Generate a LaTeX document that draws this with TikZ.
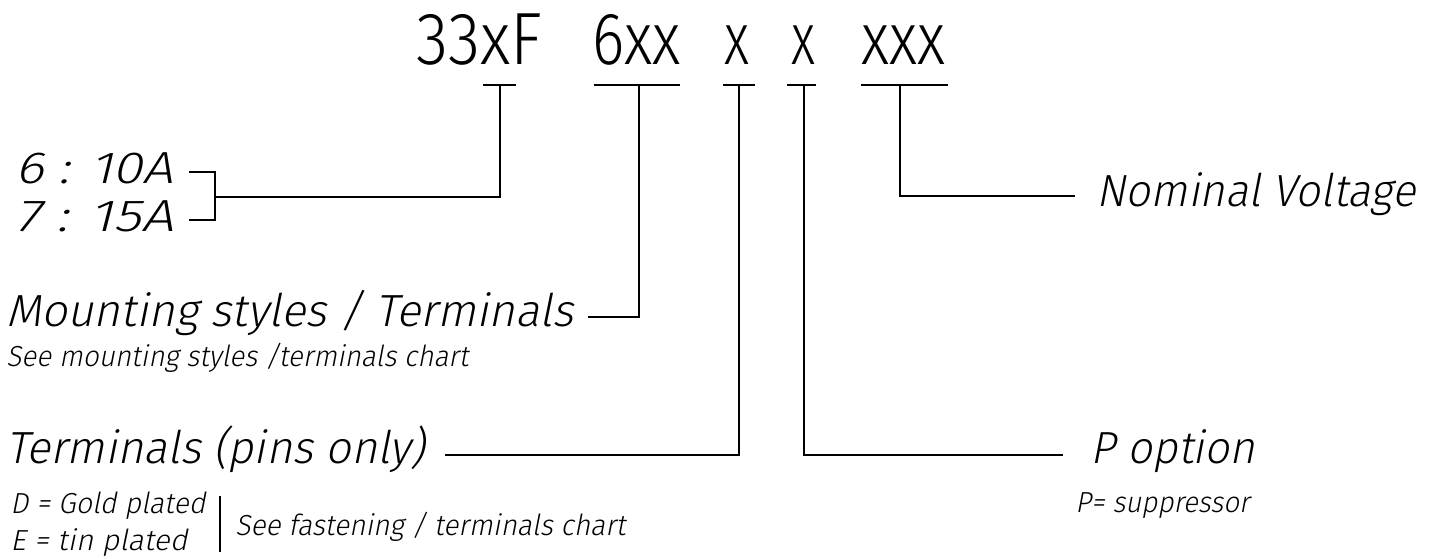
\documentclass[tikz,border=0pt]{standalone}
\usepackage{fontspec}
\usepackage{graphicx}
\IfFontExistsTF{Fira Sans Light}{%
  \setmainfont{Fira Sans Light}%
  \newfontfamily\slfont{Fira Sans Light}[FakeSlant=0.2]%
}{%
  \setmainfont{Fira Sans}%
  \newfontfamily\slfont{Fira Sans}[FakeSlant=0.2]%
}
\newlength\fitlen
\newcommand\fitx[2]{\settowidth\fitlen{#2}\pgfmathsetmacro\fitr{0.5*#1/\fitlen}\scalebox{\fitr}[1]{#2}}
\tikzset{
  codetxt/.style={font=\fontsize{37}{40}\selectfont, inner sep=0pt, anchor=base west},
  bigtxt/.style={font=\slfont\fontsize{22.5}{26}\selectfont, inner sep=0pt, anchor=base west},
  smalltxt/.style={font=\slfont\fontsize{14.5}{17}\selectfont, inner sep=0pt, anchor=base west},
  wire/.style={line width=1pt, line cap=butt, line join=miter}
}
\begin{document}
\begin{tikzpicture}[x=0.5pt,y=-0.5pt]
\useasboundingbox (0,0) rectangle (1434,558);
% part code
\node[codetxt] (c1) at (416,64) {\fitx{126}{33xF}};
\node[codetxt] (c2) at (592,64) {\fitx{88}{6xx}};
\node[codetxt] (c3) at (724,64) {\fitx{25}{x}};
\node[codetxt] (c4) at (791,64) {\fitx{24}{x}};
\node[codetxt] (c5) at (861,64) {\fitx{84}{xxx}};
% bars
\coordinate (b1l) at (483,85); \coordinate (b1r) at (516,85); \coordinate (b1m) at (500,85);
\coordinate (b2l) at (594,85); \coordinate (b2r) at (680,85); \coordinate (b2m) at (639,85);
\coordinate (b3l) at (723,85); \coordinate (b3r) at (755,85); \coordinate (b3m) at (739,85);
\coordinate (b4l) at (787,85); \coordinate (b4r) at (816,85); \coordinate (b4m) at (804,85);
\coordinate (b5l) at (861,85); \coordinate (b5r) at (948,85); \coordinate (b5m) at (900,85);
\draw[wire] (b1l) -- (b1r); \draw[wire] (b2l) -- (b2r); \draw[wire] (b3l) -- (b3r);
\draw[wire] (b4l) -- (b4r); \draw[wire] (b5l) -- (b5r);
% current rating
\node[bigtxt] (r6) at (15,183) {\fitx{158}{6 : 10A}};
\node[bigtxt] (r7) at (15,231) {\fitx{158}{7 : 15A}};
\coordinate (k6) at (189,172); \coordinate (k7) at (189,220);
\coordinate (kj) at (215,197);
\draw[wire] (k6) -| (kj |- k7) -- (k7);
\draw[wire] (b1m) |- (kj);
% mounting
\node[bigtxt] (mnt) at (6,326) {\fitx{567}{Mounting styles / Terminals}};
\node[smalltxt] (mnts) at (6,366) {\fitx{462}{See mounting styles /terminals chart}};
\coordinate (k2) at (588,317);
\draw[wire] (b2m) |- (k2);
% terminals
\node[bigtxt] (term) at (6,463) {\fitx{419}{Terminals (pins only)}};
\coordinate (k3) at (445,455);
\draw[wire] (b3m) |- (k3);
\node[smalltxt] (gold) at (10,513) {\fitx{195}{D = Gold plated}};
\node[smalltxt] (tin) at (10,550) {\fitx{177}{E = tin plated}};
\coordinate (vt) at (220,496); \coordinate (vb) at (220,552);
\draw[wire] (vt) -- (vb);
\node[smalltxt] (fast) at (235,535) {\fitx{390}{See fastening / terminals chart}};
% P option
\coordinate (k4) at (1063,455);
\draw[wire] (b4m) |- (k4);
\node[bigtxt] (popt) at (1090,463) {\fitx{165}{P option}};
\node[smalltxt] (psup) at (1075,512) {\fitx{174}{P= suppressor}};
% nominal voltage
\coordinate (k5) at (1075,196);
\draw[wire] (b5m) |- (k5);
\node[bigtxt] (nom) at (1096,206) {\fitx{319}{Nominal Voltage}};
\end{tikzpicture}
\end{document}
